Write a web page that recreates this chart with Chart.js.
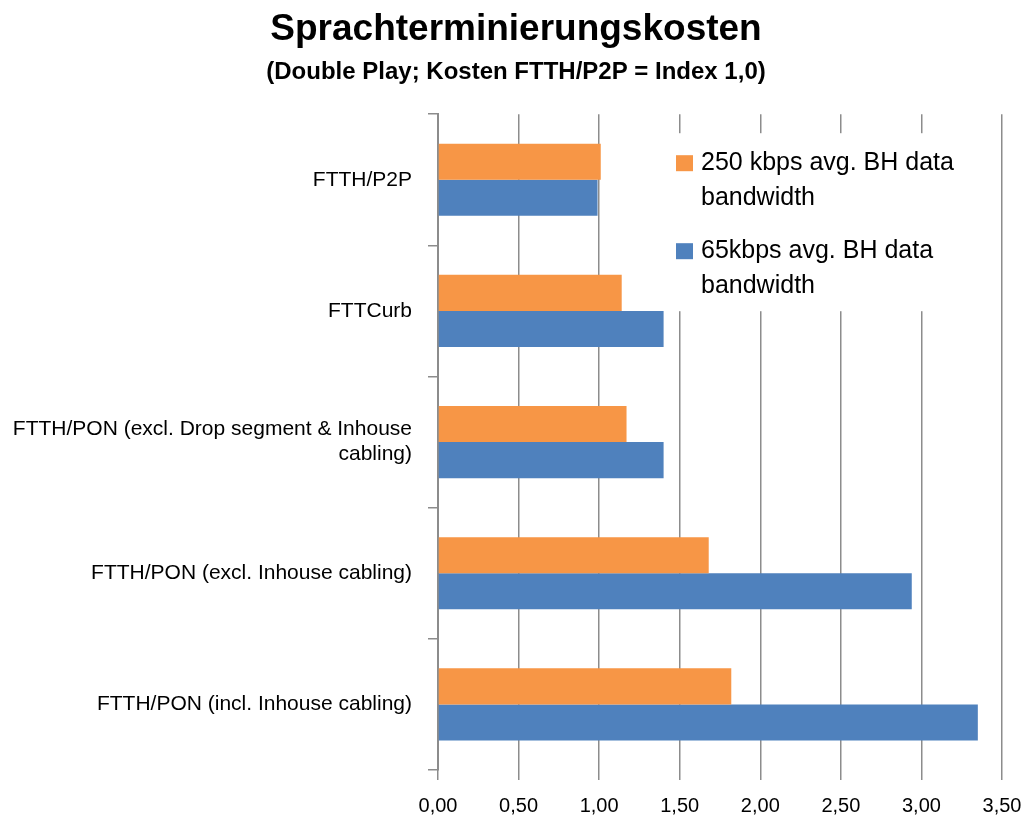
<!DOCTYPE html>
<html>
<head>
<meta charset="utf-8">
<script src="https://cdn.jsdelivr.net/npm/chart.js@4.4.1/dist/chart.umd.min.js"></script>
<style>
  html, body { margin: 0; padding: 0; background: #fff; }
  #wrap { width: 1028px; height: 823px; }
</style>
</head>
<body>
<div id="wrap"><canvas id="myChart" width="1028" height="823"></canvas></div>
<script>
const categories = [
    "FTTH/P2P",
    "FTTCurb",
    ["FTTH/PON (excl. Drop segment & Inhouse", "cabling)"],
    "FTTH/PON (excl. Inhouse cabling)",
    "FTTH/PON (incl. Inhouse cabling)"
];
const seriesNames = [
    ["250 kbps avg. BH data", "bandwidth"],
    ["65kbps avg. BH data", "bandwidth"]
];
const values250 = [1.01, 1.14, 1.17, 1.68, 1.82];
const values65 = [0.99, 1.40, 1.40, 2.94, 3.35];
const xTicks = [0, 0.5, 1, 1.5, 2, 2.5, 3, 3.5];

const orange = "#F79646";
const blue = "#4F81BD";
const fontName = "'Liberation Sans', Arial, sans-serif";

// legend drawn by hand, it sits inside the plot with multi-line entries
const boxLegend = {
    id: "boxLegend",
    afterDraw(chart) {
        const ctx = chart.ctx;
        const area = chart.chartArea;
        const x0 = area.right - 333;
        const y0 = area.top + 19;
        ctx.save();
        ctx.fillStyle = "#fff";
        ctx.fillRect(x0, y0, 320, 178);
        const colors = [orange, blue];
        ctx.font = "25px " + fontName;
        ctx.textBaseline = "middle";
        ctx.textAlign = "left";
        seriesNames.forEach((lines, i) => {
            const top = y0 + 30 + i * 88;
            ctx.fillStyle = colors[i];
            ctx.fillRect(x0 + 7, top - 8, 17, 16);
            ctx.fillStyle = "#000";
            lines.forEach((t, j) => ctx.fillText(t, x0 + 32, top + j * 35));
        });
        ctx.restore();
    }
};

const canvas = document.getElementById("myChart");
const data = {
    labels: categories,
    datasets: [
        {
            label: seriesNames[0].join(" "),
            data: values250,
            backgroundColor: orange,
            categoryPercentage: 0.55,
            barPercentage: 1.0
        },
        {
            label: seriesNames[1].join(" "),
            data: values65,
            backgroundColor: blue,
            categoryPercentage: 0.55,
            barPercentage: 1.0
        }
    ]
};

const myBarChart = new Chart(canvas, {
    type: "bar",
    data: data,
    plugins: [boxLegend],
    options: {
        indexAxis: "y",
        responsive: false,
        animation: false,
        layout: { padding: { top: 0, right: 0, bottom: 0, left: 4 } },
        plugins: {
            legend: { display: false },
            tooltip: { enabled: false },
            title: {
                display: true,
                text: "Sprachterminierungskosten",
                color: "#000",
                font: { family: fontName, size: 37, weight: "bold" },
                padding: { top: 8, bottom: 6 }
            },
            subtitle: {
                display: true,
                text: "(Double Play; Kosten FTTH/P2P = Index 1,0)",
                color: "#000",
                font: { family: fontName, size: 24, weight: "bold" },
                padding: { top: 0, bottom: 27 }
            }
        },
        scales: {
            x: {
                min: 0,
                max: 3.5,
                afterBuildTicks: (scale) => { scale.ticks = xTicks.map(v => ({ value: v })); },
                afterFit: (scale) => { scale.height = 53; scale.paddingRight = 26; scale.paddingLeft = 0; },
                grid: { color: "#8c8c8c", lineWidth: 1.5, tickLength: 10 },
                border: { display: false },
                ticks: {
                    color: "#000",
                    padding: 14,
                    font: { family: fontName, size: 20 },
                    callback: (v) => Number(v).toFixed(2).replace(".", ",")
                }
            },
            y: {
                afterFit: (scale) => { scale.width = 434; },
                grid: { offset: true, drawOnChartArea: false, color: "#8c8c8c", lineWidth: 1.5, tickLength: 10 },
                border: { color: "#8c8c8c", width: 2 },
                ticks: {
                    color: "#000",
                    padding: 16,
                    font: { family: fontName, size: 21 }
                }
            }
        }
    }
});
</script>
</body>
</html>
